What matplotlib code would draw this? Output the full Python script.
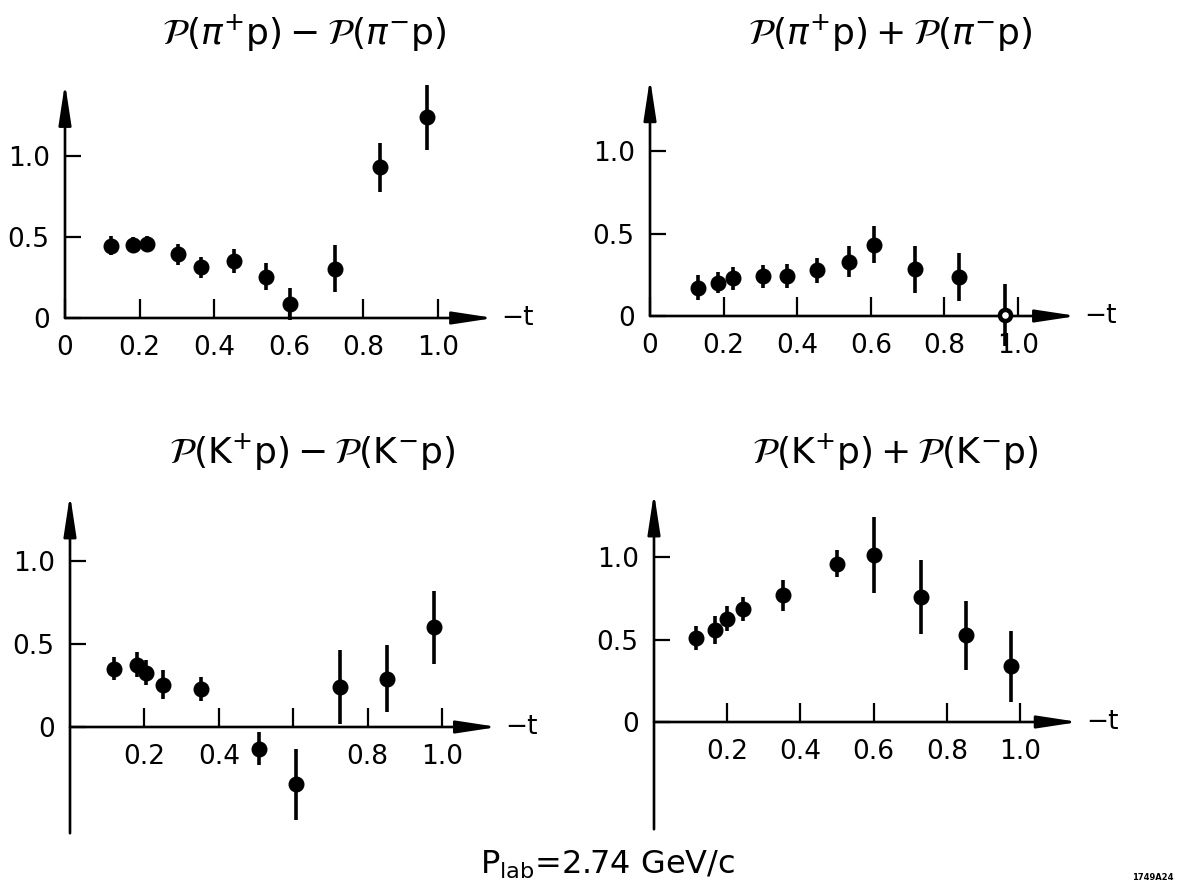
"""Polarisation sums and differences vs -t at P_lab = 2.74 GeV/c (four panels)."""

import matplotlib

matplotlib.use("Agg")
import matplotlib.pyplot as plt  # noqa: E402

plt.rcParams["font.family"] = ["DejaVu Sans"]
plt.rcParams["mathtext.fontset"] = "dejavusans"

W, H = 1184, 892

# --- data --------------------------------------------------------------------
TITLES = [
    r"$\mathcal{P}(\pi^{+}\mathrm{p}) - \mathcal{P}(\pi^{-}\mathrm{p})$",
    r"$\mathcal{P}(\pi^{+}\mathrm{p}) + \mathcal{P}(\pi^{-}\mathrm{p})$",
    r"$\mathcal{P}(\mathrm{K}^{+}\mathrm{p}) - \mathcal{P}(\mathrm{K}^{-}\mathrm{p})$",
    r"$\mathcal{P}(\mathrm{K}^{+}\mathrm{p}) + \mathcal{P}(\mathrm{K}^{-}\mathrm{p})$",
]

pi_diff_t = [0.123, 0.181, 0.219, 0.304, 0.365, 0.453, 0.538, 0.604, 0.725, 0.844, 0.970]
pi_diff_p = [0.446, 0.452, 0.458, 0.394, 0.314, 0.353, 0.255, 0.088, 0.304, 0.930, 1.238]
pi_diff_e = [0.06, 0.05, 0.05, 0.065, 0.065, 0.075, 0.085, 0.10, 0.145, 0.15, 0.20]

pi_sum_t = [0.130, 0.186, 0.225, 0.306, 0.372, 0.453, 0.542, 0.609, 0.721, 0.840, 0.966]
pi_sum_p = [0.171, 0.202, 0.228, 0.242, 0.242, 0.278, 0.329, 0.433, 0.282, 0.238, 0.006]
pi_sum_e = [0.075, 0.065, 0.07, 0.07, 0.075, 0.075, 0.095, 0.11, 0.145, 0.145, 0.19]
pi_sum_open = [False] * 10 + [True]

k_diff_t = [0.117, 0.179, 0.204, 0.249, 0.352, 0.507, 0.607, 0.726, 0.852, 0.978]
k_diff_p = [0.352, 0.376, 0.328, 0.256, 0.227, -0.131, -0.346, 0.241, 0.292, 0.600]
k_diff_e = [0.07, 0.075, 0.075, 0.085, 0.072, 0.10, 0.215, 0.22, 0.20, 0.22]

k_sum_t = [0.114, 0.168, 0.200, 0.244, 0.352, 0.499, 0.601, 0.729, 0.852, 0.975]
k_sum_p = [0.509, 0.558, 0.626, 0.685, 0.768, 0.960, 1.010, 0.756, 0.525, 0.337]
k_sum_e = [0.073, 0.085, 0.075, 0.075, 0.095, 0.083, 0.23, 0.225, 0.207, 0.217]

Y_TICKS = [0.0, 0.5, 1.0]
Y_LABELS = ["0", "0.5", "1.0"]
X_TICKS_TOP = [0.0, 0.2, 0.4, 0.6, 0.8, 1.0]
X_LABELS_TOP = ["0", "0.2", "0.4", "0.6", "0.8", "1.0"]
X_TICKS_BOT = [0.2, 0.4, 0.6, 0.8, 1.0]
X_LABELS_KDIFF = ["0.2", "0.4", "", "0.8", "1.0"]
X_LABELS_KSUM = ["0.2", "0.4", "0.6", "0.8", "1.0"]

# --- layout: origin pixel, pixels per unit, axis extents ----------------------
PANELS = [
    dict(t=pi_diff_t, p=pi_diff_p, e=pi_diff_e, open=None,
         xt=X_TICKS_TOP, xl=X_LABELS_TOP,
         ox=65, oy=318, ux=373, uy=162, ybot=0.0, ytip=1.45, xtip=1.15,
         title_xy=(304, 33)),
    dict(t=pi_sum_t, p=pi_sum_p, e=pi_sum_e, open=pi_sum_open,
         xt=X_TICKS_TOP, xl=X_LABELS_TOP,
         ox=650, oy=316, ux=368, uy=165, ybot=0.0, ytip=1.44, xtip=1.16,
         title_xy=(890, 33)),
    dict(t=k_diff_t, p=k_diff_p, e=k_diff_e, open=None,
         xt=X_TICKS_BOT, xl=X_LABELS_KDIFF,
         ox=70, oy=727, ux=372, uy=166, ybot=-0.64, ytip=1.40, xtip=1.15,
         title_xy=(312, 452)),
    dict(t=k_sum_t, p=k_sum_p, e=k_sum_e, open=None,
         xt=X_TICKS_BOT, xl=X_LABELS_KSUM,
         ox=654, oy=722, ux=366, uy=165, ybot=-0.65, ytip=1.39, xtip=1.16,
         title_xy=(895, 452)),
]

XLIM = (-0.17, 1.32)
YLIM = (-0.75, 1.5)
FS = 19


def draw_panel(fig, cfg, title):
    left = cfg["ox"] + XLIM[0] * cfg["ux"]
    width = (XLIM[1] - XLIM[0]) * cfg["ux"]
    top = cfg["oy"] - YLIM[1] * cfg["uy"]
    height = (YLIM[1] - YLIM[0]) * cfg["uy"]
    ax = fig.add_axes([left / W, 1 - (top + height) / H, width / W, height / H])
    ax.set_xlim(*XLIM)
    ax.set_ylim(*YLIM)
    ax.patch.set_alpha(0)

    for side in ("top", "right"):
        ax.spines[side].set_visible(False)
    ax.spines["left"].set_position(("data", 0))
    ax.spines["bottom"].set_position(("data", 0))
    ax.spines["left"].set_color("none")
    ax.spines["bottom"].set_color("none")

    ax.set_xticks(cfg["xt"])
    ax.set_xticklabels(cfg["xl"])
    ax.set_yticks(Y_TICKS)
    ax.set_yticklabels(Y_LABELS)
    ax.tick_params(axis="x", direction="in", length=13.5, width=1.6, pad=12,
                   labelsize=FS)
    ax.tick_params(axis="y", direction="in", length=11.5, width=1.6, pad=11,
                   labelsize=FS)

    arrow = dict(arrowstyle="-|>,head_length=2.5,head_width=0.38",
                 color="black", lw=1.9, shrinkA=0, shrinkB=0)
    ax.annotate("", xy=(cfg["xtip"], 0), xytext=(0, 0), arrowprops=arrow)
    ax.annotate("", xy=(0, cfg["ytip"]), xytext=(0, cfg["ybot"]),
                arrowprops=arrow)
    ax.text(cfg["xtip"] + 0.02, 0, "\u2212t", fontsize=FS, ha="left",
            va="center")

    opens = cfg["open"] or [False] * len(cfg["t"])
    for t, p, e, is_open in zip(cfg["t"], cfg["p"], cfg["e"], opens):
        ax.errorbar([t], [p], yerr=[e], fmt="o", color="black",
                    ms=8 if is_open else 10.5, mfc="white" if is_open else "black",
                    mew=3.2 if is_open else 1, elinewidth=2.6, capsize=0,
                    zorder=3)

    fig.text(cfg["title_xy"][0] / W, 1 - cfg["title_xy"][1] / H, title,
             fontsize=26, ha="center", va="center")


def main():
    fig = plt.figure(figsize=(W / 100, H / 100), dpi=100)
    fig.patch.set_facecolor("white")
    for cfg, title in zip(PANELS, TITLES):
        draw_panel(fig, cfg, title)

    fig.text(608 / W, 1 - 865 / H, r"P$_{\mathrm{lab}}$=2.74 GeV/c",
             fontsize=23, ha="center", va="center")
    fig.text(1153 / W, 1 - 878 / H, "1749A24", fontsize=6, fontweight="bold",
             ha="center", va="center")
    fig.savefig("out.png", dpi=100, facecolor="white")
    plt.close(fig)


if __name__ == "__main__":
    main()
